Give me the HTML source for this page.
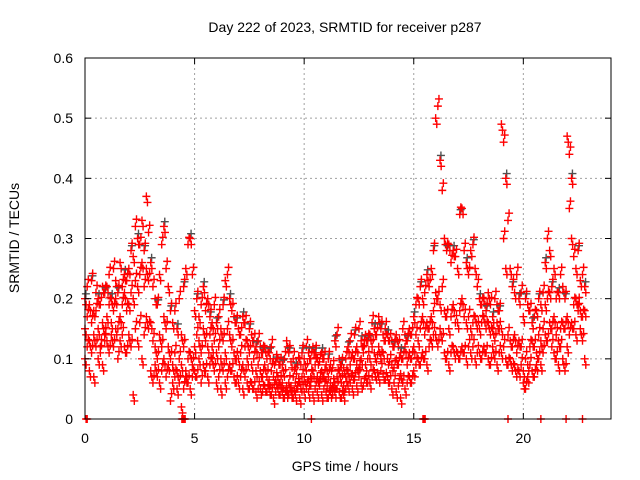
<!DOCTYPE html>
<html><head><meta charset="utf-8"><style>
body{margin:0;background:#fff}
svg{display:block;font-family:"Liberation Sans",sans-serif}
</style></head><body>
<svg id="chart" width="640" height="480">
<rect width="640" height="480" fill="#fff"/>
<text x="345" y="32" text-anchor="middle" font-size="14">Day 222 of 2023, SRMTID for receiver p287</text>
<text transform="translate(19,238) rotate(-90)" text-anchor="middle" font-size="14">SRMTID / TECUs</text>
<text x="345" y="471" text-anchor="middle" font-size="14">GPS time / hours</text>
<g id="grid"></g><g id="marks"></g><g id="axes"></g>
</svg>
<script>
const xTicks=[0,5,10,15,20];
const yTicks=[0,0.1,0.2,0.3,0.4,0.5,0.6];
const yTickLabels=["0","0.1","0.2","0.3","0.4","0.5","0.6"];
const seriesA=[.15,.17,.13,.16,.14,.18,.15,.12,.16,.14,
.17,.19,.16,.18,.20,.15,.17,.19,.21,.18,
.19,.21,.20,.23,.22,.24,.26,.22,.25,.23,
.16,.13,.12,.10,.14,.12,.17,.15,.12,.10,
.09,.11,.08,.10,.09,.12,.08,.10,.11,.09,
.12,.14,.13,.11,.15,.13,.12,.14,.12,.13,
.11,.12,.10,.13,.11,.15,.14,.12,.11,.10,
.10,.11,.09,.12,.10,.11,.09,.10,.08,.09,
.08,.07,.09,.07,.065,.08,.07,.065,.07,.06,
.06,.07,.055,.06,.055,.07,.06,.055,.06,.07,
.07,.08,.065,.07,.08,.09,.07,.065,.08,.07,
.065,.07,.06,.055,.06,.07,.08,.06,.055,.07,
.08,.09,.075,.10,.09,.085,.10,.11,.09,.10,
.10,.12,.11,.095,.12,.10,.11,.13,.10,.095,
.09,.085,.10,.09,.075,.10,.12,.09,.11,.10,
.12,.14,.13,.15,.17,.14,.16,.15,.17,.18,
.21,.20,.19,.22,.18,.17,.15,.17,.19,.16,
.16,.18,.20,.17,.16,.17,.15,.16,.17,.15,
.15,.16,.17,.15,.16,.14,.15,.13,.16,.15,
.15,.30,.25,.14,.13,.12,.14,.11,.13,.12,
.08,.10,.09,.12,.13,.12,.11,.14,.13,.15,
.19,.20,.21,.15,.17,.14,.13,.15,.16,.15,
.17,.35,.30,.19,.20,.19,.18,.17,.18];
const seriesB=[.20,.22,.19,.23,.18,.21,.20,.19,.22,.21,
.22,.24,.20,.25,.23,.21,.26,.22,.24,.23,
.25,.28,.27,.32,.30,.29,.33,.28,.37,.31,
.26,.22,.20,.19,.24,.29,.32,.25,.22,.18,
.16,.18,.15,.20,.14,.22,.25,.29,.30,.24,
.18,.20,.17,.19,.22,.18,.20,.17,.16,.19,
.16,.17,.15,.19,.23,.24,.20,.18,.17,.16,
.15,.14,.17,.16,.13,.15,.14,.13,.12,.13,
.12,.11,.12,.10,.11,.12,.10,.095,.10,.09,
.09,.10,.13,.11,.095,.10,.085,.09,.10,.11,
.10,.12,.11,.10,.12,.11,.10,.095,.11,.10,
.09,.10,.09,.085,.13,.14,.10,.09,.085,.10,
.12,.13,.11,.14,.12,.15,.13,.12,.14,.13,
.14,.16,.15,.14,.17,.15,.14,.15,.14,.13,
.13,.12,.14,.12,.11,.15,.14,.13,.15,.14,
.17,.19,.20,.22,.20,.21,.24,.22,.25,.28,
.50,.52,.43,.38,.30,.28,.29,.26,.28,.27,
.25,.34,.35,.28,.26,.24,.28,.29,.25,.22,
.20,.19,.20,.18,.21,.19,.17,.20,.19,.18,
.49,.46,.40,.33,.25,.22,.21,.24,.20,.21,
.17,.20,.19,.18,.16,.17,.18,.20,.19,.21,
.26,.30,.28,.22,.25,.20,.21,.24,.22,.20,
.47,.44,.40,.27,.25,.28,.23,.24,.22];
const seriesC=[.10,.12,.08,.11,.07,.12,.10,.11,.09,.13,
.13,.11,.14,.12,.15,.10,.13,.14,.12,.11,
.14,.12,.04,.15,.13,.16,.10,.14,.17,.15,
.08,.06,.09,.07,.06,.08,.10,.07,.09,.03,
.06,.07,.05,.06,.02,.05,.07,.06,.05,.07,
.08,.07,.10,.06,.09,.08,.07,.09,.10,.08,
.06,.07,.05,.08,.06,.07,.09,.08,.07,.06,
.06,.07,.05,.07,.06,.05,.06,.05,.045,.05,
.05,.045,.055,.045,.05,.04,.035,.045,.05,.04,
.045,.035,.045,.04,.045,.035,.04,.05,.035,.045,
.045,.05,.045,.055,.04,.05,.045,.055,.04,.05,
.045,.035,.045,.04,.045,.05,.045,.035,.04,.05,
.055,.06,.05,.065,.055,.07,.06,.055,.07,.06,
.06,.07,.08,.065,.07,.08,.075,.065,.07,.06,
.05,.06,.045,.055,.035,.06,.05,.06,.07,.06,
.08,.09,.10,.09,.11,.10,.09,.12,.13,.14,
.14,.12,.15,.13,.11,.10,.09,.11,.12,.10,
.11,.10,.12,.11,.10,.12,.11,.12,.10,.11,
.11,.10,.12,.11,.10,.09,.12,.10,.09,.11,
.11,.12,.10,.09,.10,.08,.09,.07,.08,.09,
.06,.05,.07,.09,.08,.07,.09,.10,.09,.11,
.14,.13,.16,.12,.11,.10,.09,.12,.10,.08,
.12,.14,.16,.15,.14,.18,.15,.13,.10];
const zeroHours=[0.05,0.1,4.42,4.47,4.52,4.57,10.33,15.42,15.47,15.52,19.3,20.8,21.95,22.7];
const startHour=0, stepHour=0.1;

const NS='http://www.w3.org/2000/svg';
const L=85,R=611,T=58,B=419;
const xS=h=>L+(h/24)*(R-L);
const yS=v=>B-(v/0.6)*(B-T);
const grid=document.getElementById('grid'),marks=document.getElementById('marks'),axes=document.getElementById('axes');
function mk(tag,attrs,parent){const e=document.createElementNS(NS,tag);for(const k in attrs)e.setAttribute(k,attrs[k]);parent.appendChild(e);return e;}
yTicks.forEach((v,i)=>{
  const y=yS(v);
  if(i>0&&i<yTicks.length-1){const g=mk('line',{x1:L,x2:R,y1:y,y2:y,stroke:'#a0a0a0','stroke-dasharray':'2,3'},grid);
  
  }
  mk('line',{x1:L,x2:L+6,y1:y,y2:y,stroke:'#000'},axes);
  mk('line',{x1:R,x2:R-6,y1:y,y2:y,stroke:'#000'},axes);
  const t=mk('text',{x:L-12,y:y+5,'text-anchor':'end','font-size':'14'},axes);t.textContent=yTickLabels[i];
  
  
});
xTicks.forEach(h=>{
  const x=xS(h);
  if(h>0){const g=mk('line',{x1:x,x2:x,y1:T,y2:B,stroke:'#a0a0a0','stroke-dasharray':'2,3'},grid);
  
  }
  mk('line',{x1:x,x2:x,y1:B,y2:B-6,stroke:'#000'},axes);
  mk('line',{x1:x,x2:x,y1:T,y2:T+6,stroke:'#000'},axes);
  const t=mk('text',{x:x,y:B+24,'text-anchor':'middle','font-size':'14'},axes);t.textContent=String(h);
  
  
});
const frame=mk('rect',{x:L,y:T,width:R-L,height:B-T,fill:'none',stroke:'#000'},axes);


function cross(h,v,color){
  const x=xS(h),y=yS(v);
  const p=mk('path',{d:`M${x-4},${y}h8M${x},${y-4}v8`,stroke:color,'stroke-width':'1.4',fill:'none'},marks);
  
  
}
[seriesA,seriesB,seriesC].forEach((s,si)=>{
  s.forEach((v,i)=>{const h=startHour+i*stepHour;
    if(si===1 && i%3===0) cross(h+0.04,v+0.008,'#505050');
    cross(h,v,'#ff0000');
    cross(h+0.05,v+(i%2?0.012:-0.01),'#ff0000');
  });
});
zeroHours.forEach(h=>cross(h,0,'#ff0000'));
</script>
</body></html>
